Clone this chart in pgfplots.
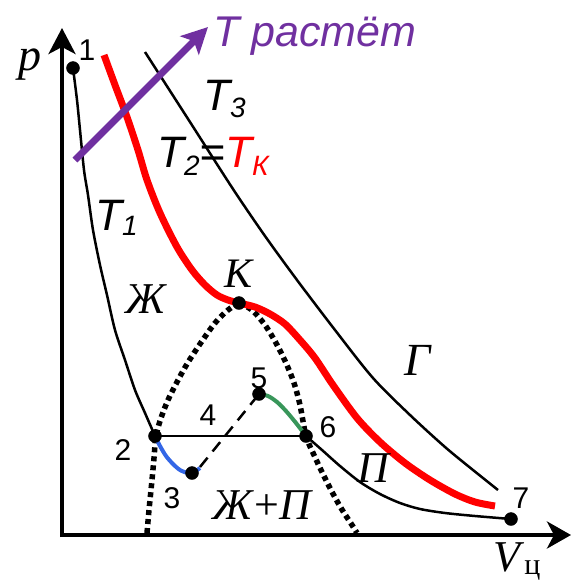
\documentclass[border=0pt]{standalone}
\usepackage{fontspec}
\setmainfont{Liberation Serif}
\newfontfamily\arialf{Liberation Sans}
\usepackage{pgfplots}
\pgfplotsset{compat=1.18}
\usetikzlibrary{arrows.meta}
\definecolor{tpurple}{RGB}{112,48,160}
\definecolor{tblue}{RGB}{51,102,230}
\definecolor{tgreen}{RGB}{56,150,90}

\begin{document}
\begin{tikzpicture}
\begin{axis}[scale only axis, width=571pt, height=582pt,
  xmin=0, xmax=571, ymin=0, ymax=582, y dir=reverse,
  hide axis, clip=false]

% binodal (dome)
\addplot[line width=5.5pt, dash pattern=on 5pt off 4pt, smooth] coordinates {
 (147,533) (149,510) (152,480) (154,458) (156,436) (161,418) (168,400)
 (177,382) (187,364) (200,344) (215,323) (228,310) (239,303)};
\addplot[line width=5.5pt, dash pattern=on 5pt off 4pt, smooth] coordinates {
 (239,303) (252,310) (265,325) (276,343) (286,363) (294,383) (300,405)
 (306,436) (314,455) (322,472) (331,490) (341,508) (352,525) (357,533)};

% isotherm T3
\addplot[line width=2.5pt, smooth] coordinates {
 (145,52) (190,122) (233,189) (265,236) (297,280) (335,330) (373,378)
 (410,415) (445,447) (473,470) (498,490)};

% critical isotherm T2 = TK
\addplot[red, line width=7pt, smooth] coordinates {
 (104,55) (115,85) (127,117) (138,150) (147,180) (160,213) (177,247)
 (192,270) (205,285) (217,295) (228,300) (239,303) (255,307) (270,314)
 (285,324) (300,340) (315,358) (333,385) (357,418) (380,442) (405,463)
 (430,480) (455,494) (475,502) (495,506)};

% isotherm T1
\addplot[line width=2.5pt, smooth] coordinates {
 (73,68) (77,100) (80,130) (84,170) (88,195) (93,230) (100,265) (107,295)
 (115,330) (125,360) (135,390) (145,413) (155,436)};
\addplot[line width=2.5pt] coordinates {(155,436) (306,436)};
\addplot[line width=2.5pt, smooth] coordinates {
 (306,436) (322,450) (340,466) (360,482) (380,494) (400,503) (420,509)
 (445,513) (475,516) (511,519)};

% metastable and unstable branches
\addplot[tblue, line width=4pt, smooth] coordinates {
 (155,436) (160,446) (166,456) (173,464) (180,470) (188,473) (194,472) (200,468)};
\addplot[line width=2.5pt, dash pattern=on 12pt off 8pt] coordinates {(200,467) (259,394)};
\addplot[tgreen, line width=4pt, smooth] coordinates {
 (259,394) (268,396) (277,402) (286,411) (296,423) (306,436)};

% coordinate axes
\addplot[line width=4pt, -{Stealth[length=26pt,width=27pt,inset=7pt]}] coordinates {(62,537) (62,28)};
\addplot[line width=4pt, -{Stealth[length=24pt,width=27pt,inset=7pt]}] coordinates {(60,535) (571,535)};

% direction of increasing temperature
\addplot[tpurple, line width=7pt, -{Stealth[length=26pt,width=26pt,inset=6pt]}] coordinates {(75,160) (208,27)};

% state points
\addplot[only marks, mark=*, mark size=6.5pt] coordinates {
 (73,68) (155,436) (192,473) (259,394) (306,436) (511,519) (239,303)};

% labels
\node[anchor=base, inner sep=0, font=\itshape\fontsize{46}{52}\selectfont] at (axis cs:30,70) {p};
\node[anchor=base west, inner sep=0, text=tpurple, font=\arialf\itshape\fontsize{43}{50}\selectfont] at (axis cs:213,46) {T растёт};
\node[anchor=base west, inner sep=0, font=\arialf\itshape\fontsize{44}{50}\selectfont] at (axis cs:203,110) {T\raisebox{-7pt}{\fontsize{28}{32}\selectfont 3}};
\node[anchor=base west, inner sep=0, font=\arialf\itshape\fontsize{44}{50}\selectfont] at (axis cs:157,167) {T\raisebox{-8pt}{\fontsize{28}{32}\selectfont 2}=\textcolor{red}{T\raisebox{-8pt}{\fontsize{28}{32}\selectfont К}}};
\node[anchor=base west, inner sep=0, font=\arialf\itshape\fontsize{44}{50}\selectfont] at (axis cs:95,230) {T\raisebox{-5pt}{\fontsize{28}{32}\selectfont 1}};

\node[anchor=base, inner sep=0, font=\itshape\fontsize{44}{50}\selectfont] at (axis cs:146,313) {Ж};
\node[anchor=base, inner sep=0, font=\itshape\fontsize{42}{50}\selectfont] at (axis cs:238,287) {К};
\node[anchor=base, inner sep=0, font=\itshape\fontsize{46}{50}\selectfont] at (axis cs:418,375) {Г};
\node[anchor=base, inner sep=0, font=\itshape\fontsize{44}{50}\selectfont] at (axis cs:373,482) {П};
\node[anchor=base, inner sep=0, font=\fontsize{44}{50}\selectfont] at (axis cs:263,519) {\textit{Ж}+\textit{П}};
\node[anchor=base west, inner sep=0, font=\fontsize{44}{50}\selectfont] at (axis cs:493,571) {\textit{V}\raisebox{-3pt}{\fontsize{30}{34}\selectfont ц}};

\begin{scope}[font=\arialf\fontsize{30}{34}\selectfont]
\node[anchor=base, inner sep=0] at (axis cs:87,60) {1};
\node[anchor=base, inner sep=0] at (axis cs:123,460) {2};
\node[anchor=base, inner sep=0] at (axis cs:172,508) {3};
\node[anchor=base, inner sep=0] at (axis cs:208,425) {4};
\node[anchor=base, inner sep=0] at (axis cs:259,388) {5};
\node[anchor=base, inner sep=0] at (axis cs:328,437) {6};
\node[anchor=base, inner sep=0] at (axis cs:521,508) {7};
\end{scope}
\end{axis}
\pgfresetboundingbox
\path (0,0) rectangle (571pt,582pt);
\end{tikzpicture}
\end{document}
